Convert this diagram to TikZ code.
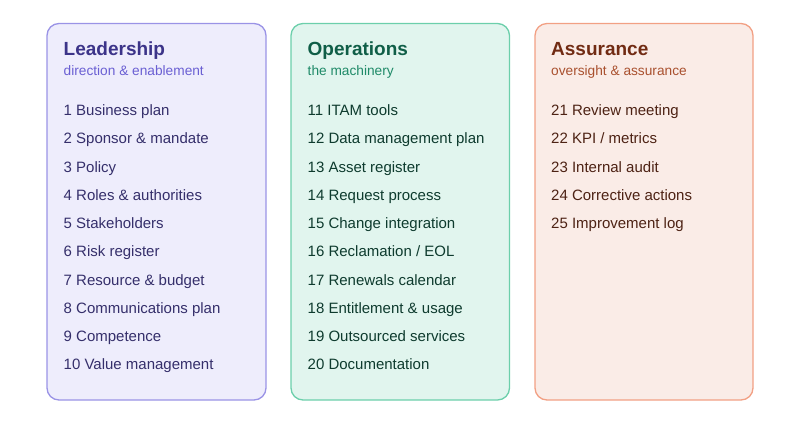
\documentclass[tikz,border=0pt]{standalone}
\usepackage{fontspec}
\setmainfont{Liberation Sans}
\definecolor{lfill}{HTML}{EEEDFC}
\definecolor{ldraw}{HTML}{9A93E6}
\definecolor{ltitle}{HTML}{3C3489}
\definecolor{lsub}{HTML}{6A5FD3}
\definecolor{ltext}{HTML}{352F6B}
\definecolor{ofill}{HTML}{E1F5EE}
\definecolor{odraw}{HTML}{6CCFAB}
\definecolor{otitle}{HTML}{0F5E47}
\definecolor{osub}{HTML}{1F8A68}
\definecolor{otext}{HTML}{0E3B2E}
\definecolor{afill}{HTML}{FAECE7}
\definecolor{adraw}{HTML}{F2A084}
\definecolor{atitle}{HTML}{712B13}
\definecolor{asub}{HTML}{A9502E}
\definecolor{atext}{HTML}{4D2214}
\tikzset{
  panel/.style={rounded corners=12pt, line width=1.3pt},
  ttl/.style={anchor=base west, inner sep=0pt, font=\fontsize{19}{22}\selectfont\bfseries},
  sub/.style={anchor=base west, inner sep=0pt, font=\fontsize{13.7}{16}\selectfont},
  itm/.style={anchor=base west, inner sep=0pt, font=\fontsize{15}{18}\selectfont},
}
\begin{document}
\begin{tikzpicture}[x=1pt,y=-1pt]
\useasboundingbox (0,0) rectangle (800,424);
% panels
\draw[panel, fill=lfill, draw=ldraw] (47,23.5) rectangle (266,400);
\draw[panel, fill=ofill, draw=odraw] (291,23.5) rectangle (509.5,400);
\draw[panel, fill=afill, draw=adraw] (535,23.5) rectangle (753,400);
% Leadership
\node[ttl, text=ltitle] (lt) at (63.5,55) {Leadership};
\node[sub, text=lsub] (ls) at (63.5,75.5) {direction \& enablement};
\foreach \t [count=\i from 0] in {1 Business plan, 2 Sponsor \& mandate, 3 Policy, 4 Roles \& authorities, 5 Stakeholders, 6 Risk register, 7 Resource \& budget, 8 Communications plan, 9 Competence, 10 Value management}
  \node[itm, text=ltext] (l\i) at (63.5,115.5+28.25*\i) {\t};
% Operations
\node[ttl, text=otitle] (ot) at (307.5,55) {Operations};
\node[sub, text=osub] (os) at (307.5,75.5) {the machinery};
\foreach \t [count=\i from 0] in {11 ITAM tools, 12 Data management plan, 13 Asset register, 14 Request process, 15 Change integration, 16 Reclamation / EOL, 17 Renewals calendar, 18 Entitlement \& usage, 19 Outsourced services, 20 Documentation}
  \node[itm, text=otext] (o\i) at (307.5,115.5+28.25*\i) {\t};
% Assurance
\node[ttl, text=atitle] (at) at (551,55) {Assurance};
\node[sub, text=asub] (as) at (551,75.5) {oversight \& assurance};
\foreach \t [count=\i from 0] in {21 Review meeting, 22 KPI / metrics, 23 Internal audit, 24 Corrective actions, 25 Improvement log}
  \node[itm, text=atext] (a\i) at (551,115.5+28.25*\i) {\t};
\end{tikzpicture}
\end{document}
